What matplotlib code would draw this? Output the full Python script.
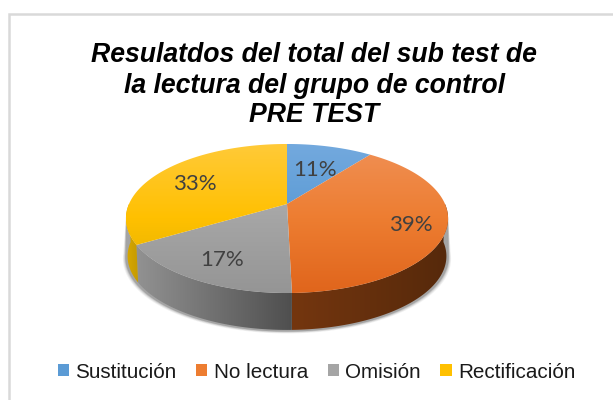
import numpy as np
import matplotlib
matplotlib.use("Agg")
import matplotlib.pyplot as plt
from matplotlib.patches import Patch, Polygon
from matplotlib.colors import LinearSegmentedColormap

title_lines = ["Resulatdos del total del sub test de", "la lectura del grupo de control", "PRE TEST"]
categories = ["Sustitución", "No lectura", "Omisión", "Rectificación"]
shares = [10.4, 39.2, 16.8, 33.6]
pct_labels = ["11%", "39%", "17%", "33%"]

top_grad = [["#73a9de", "#5b9bd5", "#4a8ccb"],
            ["#f09055", "#ed7d31", "#e0651c"],
            ["#b8b8b8", "#a5a5a5", "#959595"],
            ["#ffca38", "#ffc000", "#dcae00"]]
side_grad = [["#3d6a96", "#2e5478"],
             ["#74360f", "#56290b"],
             ["#929292", "#4f4f4f"],
             ["#d8a800", "#c49a00"]]
legend_colors = ["#5b9bd5", "#ed7d31", "#a5a5a5", "#ffc000"]

W, H = 613, 400
fig = plt.figure(figsize=(W / 100, H / 100), dpi=100, facecolor="white")
ax = fig.add_axes([0, 0, 1, 1])
ax.set_xlim(0, W)
ax.set_ylim(H, 0)
ax.axis("off")

CX, CY = 287.0, 204.0
A, B, K = 158.0, 71.7, 0.1946
DEPTH = 38.0


def project(deg, r=1.0, depth=0.0):
    t = np.radians(deg)
    u, v = r * np.sin(t), r * np.cos(t)
    w = 1 + K * v
    return CX + A * u / w, CY - B * v / w + depth


def vgrad(colors):
    return LinearSegmentedColormap.from_list("g", colors)


def fill_image(poly, cmap, vertical=True, zorder=2):
    patch = Polygon(poly, closed=True, facecolor="none", edgecolor="none", transform=ax.transData)
    ax.add_patch(patch)
    g = np.linspace(0, 1, 256)
    arr = g[:, None] if vertical else g[None, :]
    xs, ys = poly[:, 0], poly[:, 1]
    x0, x1, y0, y1 = xs.min(), xs.max(), ys.min(), ys.max()
    if vertical:
        y0, y1 = 144.0, 293.0
    im = ax.imshow(arr, cmap=cmap, extent=(x0, x1, y1, y0), aspect="auto",
                   origin="upper", zorder=zorder, vmin=0, vmax=1, interpolation="bilinear")
    im.set_clip_path(patch)


angles = np.concatenate([[0], np.cumsum(shares) / np.sum(shares) * 360])

# soft shadow under the body, kept below the rim
th = np.linspace(100, 262, 200)
for grow, alpha in [(3.0, 0.06), (2.2, 0.09), (1.4, 0.13), (0.7, 0.2)]:
    sx, sy = project(th, 1.0, DEPTH)
    tx, ty = project(th[::-1], 1.0, 0)
    sx = CX + (sx - CX) * (1 + grow / 160)
    sy = sy + grow * 0.8
    ax.fill(np.r_[sx, tx], np.r_[sy, ty], color="#202020", alpha=alpha, lw=0, zorder=1)

# side walls
for i in range(len(shares)):
    a0, a1 = angles[i], angles[i + 1]
    lo, hi = max(a0, 90), min(a1, 270)
    if hi <= lo:
        continue
    th = np.linspace(lo, hi, 120)
    tx, ty = project(th)
    bx, by = project(th[::-1], 0.99, DEPTH)
    poly = np.c_[np.r_[tx, bx], np.r_[ty, by]]
    fill_image(poly, vgrad(side_grad[i]), vertical=False)

# top faces
for i in range(len(shares)):
    th = np.linspace(angles[i], angles[i + 1], 160)
    x, y = project(th)
    poly = np.c_[np.r_[CX, x], np.r_[CY, y]]
    fill_image(poly, vgrad(top_grad[i]), vertical=True, zorder=3)

ax.set_xlim(0, W)
ax.set_ylim(H, 0)

# percent labels
label_xy = [(315, 170), (411, 225), (222, 260), (195, 184)]
for (lx, ly), s in zip(label_xy, pct_labels):
    ax.text(lx, ly, s, fontsize=16, family="Lato", color="#404040",
            ha="center", va="center", zorder=5)

# title
title_y = [62, 93, 122]
for yy, s in zip(title_y, title_lines):
    ax.text(314, yy, s, fontsize=19.2, family="Liberation Sans", fontweight="bold",
            fontstyle="italic", color="black", ha="center", va="baseline", zorder=5)

# chart frame, left and top only
ax.plot([9, 9, W], [H, 14, 14], color="#d9d9d9", lw=1.8, solid_joinstyle="miter", zorder=0)

handles = [Patch(facecolor=c, edgecolor="none") for c in legend_colors]
leg = ax.legend(handles, categories, loc="center", bbox_to_anchor=(316.5 / W, 1 - 372 / H),
                ncol=4, frameon=False, handlelength=0.55, handleheight=0.55,
                handletextpad=0.3, columnspacing=0.95, borderpad=0,
                prop={"family": "Liberation Sans", "size": 14.9})
for t in leg.get_texts():
    t.set_color("#1a1a1a")

fig.savefig("out.png", dpi=100, facecolor="white")
